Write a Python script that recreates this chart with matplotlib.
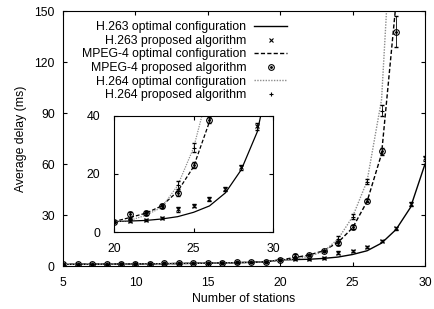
import matplotlib
matplotlib.use("Agg")
import matplotlib.pyplot as plt
import numpy as np

plt.rcParams["font.family"] = ["Liberation Sans", "DejaVu Sans"]
plt.rcParams["font.size"] = 8.8

# 数据
stations = list(range(5, 31))

h263_opt = [1.0, 1.05, 1.1, 1.15, 1.2, 1.25, 1.3, 1.4, 1.5, 1.6, 1.7, 1.85, 2.0, 2.2, 2.5,
            3.6, 3.8, 4.0, 4.5, 5.3, 6.8, 9.0, 13.5, 21.5, 34.5, 60.0]
h263_alg = [1.1, 1.15, 1.2, 1.25, 1.3, 1.35, 1.4, 1.5, 1.6, 1.7, 1.8, 1.95, 2.1, 2.3, 2.6,
            3.6, 3.9, 4.1, 4.8, 7.8, 9.0, 11.4, 14.8, 22.3, 36.5, 63.5]
h263_err = [0.2] * 15 + [0.3, 0.3, 0.3, 0.4, 0.9, 0.5, 0.6, 0.6, 0.8, 1.2, 1.5]

mpeg4_opt = [1.0, 1.05, 1.1, 1.15, 1.2, 1.25, 1.3, 1.4, 1.5, 1.6, 1.7, 1.85, 2.0, 2.2, 2.5,
             3.6, 5.0, 6.5, 9.0, 14.0, 22.5, 38.0, 66.0, 155.0, 300.0, 500.0]
mpeg4_alg = [1.1, 1.15, 1.2, 1.25, 1.3, 1.35, 1.4, 1.5, 1.6, 1.7, 1.8, 1.95, 2.1, 2.3, 2.6,
             3.6, 6.1, 6.7, 9.1, 13.3, 23.0, 38.5, 67.5, 138.0, 300.0, 500.0]
mpeg4_err = [0.2] * 15 + [0.3, 0.8, 0.5, 0.5, 0.9, 1.0, 1.0, 2.0, 9.0, 0.0, 0.0]

h264_opt = [1.0, 1.05, 1.1, 1.15, 1.2, 1.25, 1.3, 1.4, 1.5, 1.6, 1.7, 1.85, 2.0, 2.2, 2.5,
            3.6, 4.0, 5.8, 8.5, 16.0, 29.0, 50.0, 98.0, 250.0, 500.0, 800.0]
h264_alg = [1.1, 1.15, 1.2, 1.25, 1.3, 1.35, 1.4, 1.5, 1.6, 1.7, 1.8, 1.95, 2.1, 2.3, 2.6,
            3.6, 4.5, 6.5, 8.8, 16.2, 29.0, 49.6, 91.5, 300.0, 500.0, 800.0]
h264_err = [0.2] * 15 + [0.3, 0.4, 0.5, 0.6, 1.5, 1.5, 1.5, 3.0, 0.0, 0.0, 0.0]

legend_labels = ["H.263 optimal configuration", "H.263 proposed algorithm",
                 "MPEG-4 optimal configuration", "MPEG-4 proposed algorithm",
                 "H.264 optimal configuration", "H.264 proposed algorithm"]

grey = "#8c8c8c"
dash = (0, (3, 1.6))
dot = (0, (1, 1))


def draw_series(ax, lw, ms):
    x = np.array(stations)
    # H.263
    l1, = ax.plot(x, h263_opt, color="black", lw=lw, ls="-")
    ax.errorbar(x, h263_alg, yerr=h263_err, fmt="none", ecolor="black", elinewidth=0.6, capsize=1.2)
    m1, = ax.plot(x, h263_alg, ls="none", marker="x", ms=ms, mew=0.8, color="black")
    # MPEG-4
    l2, = ax.plot(x, mpeg4_opt, color="black", lw=lw, ls=dash)
    ax.errorbar(x, mpeg4_alg, yerr=mpeg4_err, fmt="none", ecolor="black", elinewidth=0.6, capsize=1.2)
    m2a, = ax.plot(x, mpeg4_alg, ls="none", marker="o", ms=ms + 0.6, mew=0.8,
                   mfc="none", mec="black")
    m2b, = ax.plot(x, mpeg4_alg, ls="none", marker=".", ms=ms * 0.6, color="black")
    # H.264
    l3, = ax.plot(x, h264_opt, color=grey, lw=lw, ls=dot)
    ax.errorbar(x, h264_alg, yerr=h264_err, fmt="none", ecolor="black", elinewidth=0.6, capsize=1.2)
    m3, = ax.plot(x, h264_alg, ls="none", marker="+", ms=ms, mew=0.8, color="black")
    return [l1, m1, l2, (m2a, m2b), l3, m3]


fig = plt.figure(figsize=(4.35, 3.09), dpi=100)
ax = fig.add_axes([0.145, 0.139, 0.832, 0.825])
handles = draw_series(ax, 1.0, 3.5)
ax.set_xlim(5, 30)
ax.set_ylim(0, 150)
ax.set_xticks([5, 10, 15, 20, 25, 30])
ax.set_yticks([0, 30, 60, 90, 120, 150])
ax.tick_params(direction="in", top=True, right=True, length=3, width=0.8)
ax.tick_params(axis="x", pad=8)
ax.tick_params(axis="y", pad=6)
ax.set_xlabel("Number of stations", labelpad=3)
ax.set_ylabel("Average delay (ms)", labelpad=5)

ax.legend(handles, legend_labels, loc="upper right", bbox_to_anchor=(0.619, 0.96),
          frameon=False, markerfirst=False, handlelength=2.7, labelspacing=0.13,
          handletextpad=0.65, borderaxespad=0, borderpad=0, fontsize=8.8)

# 局部放大
axin = fig.add_axes([0.262, 0.249, 0.366, 0.376])
draw_series(axin, 0.9, 3.5)
axin.set_xlim(20, 30)
axin.set_ylim(0, 40)
axin.set_xticks([20, 25, 30])
axin.set_yticks([0, 20, 40])
axin.tick_params(direction="in", top=True, right=True, length=3, width=0.8)
axin.tick_params(axis="x", pad=8)
axin.tick_params(axis="y", pad=10)

fig.savefig("out.png", dpi=100)
